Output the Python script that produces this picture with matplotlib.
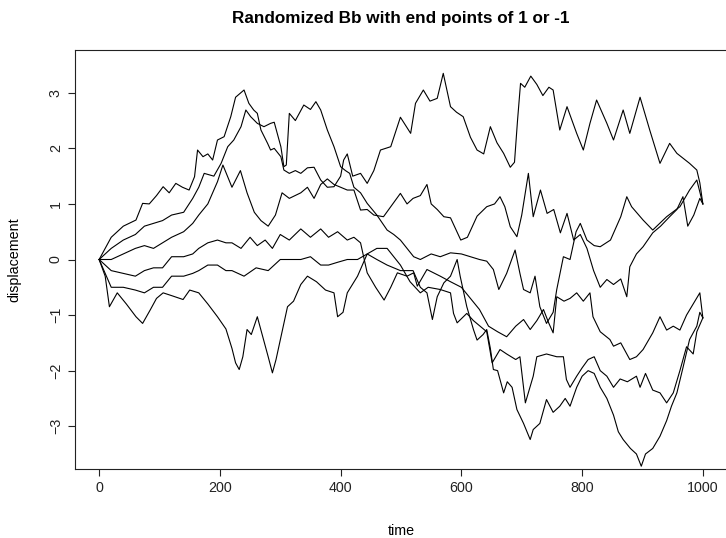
import numpy as np
import matplotlib
matplotlib.use("Agg")
import matplotlib.pyplot as plt

# six bridge paths (time, displacement)
path_a_t = [0, 20, 40, 61, 72, 83, 95, 106, 116, 127, 138, 149, 158, 163, 172, 180, 188, 196, 207, 218,
            226, 240, 248, 256, 262, 268, 279, 284, 290, 301, 306, 315, 325, 334, 345, 356, 367, 378, 389, 400,
            405, 411, 420, 433, 444, 455, 466, 483, 499, 516, 524, 537, 548, 560, 570, 582, 592, 603, 615, 626,
            637, 648, 659, 670, 681, 688, 693, 698, 705, 715, 725, 735, 745, 752, 763, 775, 791, 802, 813, 824,
            841, 852, 868, 879, 896, 912, 929, 945, 957, 978, 990, 995, 1000]
path_a_v = [0, 0.4, 0.6, 0.71, 1.01, 1.0, 1.15, 1.31, 1.2, 1.37, 1.3, 1.25, 1.49, 1.97, 1.85, 1.9, 1.79, 2.15, 2.21, 2.57,
            2.92, 3.05, 2.81, 2.69, 2.63, 2.33, 2.09, 1.97, 2.0, 1.85, 1.61, 1.55, 1.6, 1.55, 1.65, 1.66, 1.43, 1.3, 1.31, 1.5,
            1.79, 1.9, 1.5, 1.55, 1.37, 1.6, 1.97, 2.03, 2.56, 2.27, 2.81, 3.05, 2.85, 2.9, 3.35, 2.75, 2.65, 2.57, 2.2, 1.97,
            1.9, 2.39, 2.1, 1.91, 1.66, 1.75, 2.5, 3.17, 3.1, 3.3, 3.15, 2.95, 3.1, 3.05, 2.33, 2.75, 2.27, 1.97, 2.45, 2.87,
            2.45, 2.15, 2.69, 2.27, 2.92, 2.33, 1.73, 2.09, 1.91, 1.73, 1.61, 1.38, 1.0]

path_b_t = [0, 20, 40, 60, 75, 90, 105, 120, 140, 155, 165, 174, 190, 202, 213, 223, 235, 243, 251, 262,
            273, 284, 290, 301, 306, 310, 315, 325, 339, 350, 359, 367, 378, 389, 400, 408, 415, 422, 433, 444,
            460, 477, 488, 499, 510, 521, 532, 550, 565, 582, 600, 615, 630, 642, 653, 662, 675, 689, 697, 703,
            714, 722, 730, 741, 752, 758, 769, 780, 790, 797, 808, 820, 830, 847, 864, 874, 882, 901, 917, 940,
            962, 978, 990, 1000]
path_b_v = [0, 0.2, 0.35, 0.45, 0.6, 0.65, 0.7, 0.8, 0.85, 1.1, 1.3, 1.55, 1.5, 1.73, 2.03, 2.15, 2.39, 2.69, 2.57, 2.45,
            2.39, 2.45, 2.47, 2.03, 1.67, 1.7, 2.63, 2.5, 2.78, 2.7, 2.84, 2.69, 2.33, 2.03, 1.67, 1.6, 1.55, 1.3, 1.2, 1.01,
            0.8, 0.53, 0.45, 0.35, 0.2, 0.05, 0.0, 0.1, 0.05, 0.12, 0.1, 0.05, 0.0, -0.03, -0.18, -0.54, -0.25, 0.17, -0.25, -0.54,
            -0.6, -0.3, -0.85, -1.15, -0.95, -0.54, 0.05, 0.0, 0.5, 0.65, 0.35, 0.25, 0.23, 0.35, 0.77, 1.13, 0.95, 0.71, 0.53, 0.77,
            0.95, 1.25, 1.43, 1.0]

path_c_t = [0, 20, 40, 60, 75, 90, 105, 120, 140, 155, 165, 180, 196, 205, 220, 234, 245, 257, 268, 280,
            292, 303, 315, 334, 345, 356, 367, 378, 389, 400, 411, 422, 433, 444, 455, 471, 483, 499, 510, 520,
            532, 543, 550, 560, 571, 582, 599, 610, 626, 642, 655, 664, 672, 681, 692, 700, 711, 719, 731, 742,
            753, 764, 775, 786, 797, 808, 819, 830, 841, 852, 864, 874, 879, 890, 901, 917, 930, 945, 957, 967,
            975, 985, 995, 1000]
path_c_v = [0, 0.0, 0.1, 0.2, 0.25, 0.2, 0.3, 0.4, 0.5, 0.65, 0.8, 1.0, 1.4, 1.7, 1.3, 1.6, 1.2, 0.85, 0.7, 0.6,
            0.8, 1.2, 1.1, 1.2, 1.3, 1.1, 1.35, 1.45, 1.35, 1.3, 1.25, 1.25, 0.89, 0.9, 0.8, 0.77, 0.95, 1.19, 1.0, 1.1,
            1.15, 1.35, 1.0, 0.9, 0.77, 0.75, 0.35, 0.4, 0.78, 0.95, 1.0, 1.13, 0.95, 0.59, 0.41, 0.8, 1.55, 0.77, 1.25, 0.83,
            0.9, 0.48, 0.83, 0.35, 0.45, 0.2, -0.2, -0.5, -0.36, -0.45, -0.35, -0.67, -0.13, 0.1, 0.23, 0.48, 0.6, 0.77, 0.9, 1.13,
            0.6, 0.8, 1.1, 1.0]

path_d_t = [0, 20, 40, 60, 75, 90, 105, 120, 140, 155, 165, 180, 196, 210, 220, 235, 250, 262, 275, 287,
            300, 315, 334, 350, 367, 380, 395, 411, 422, 433, 444, 458, 472, 483, 494, 510, 521, 527, 543, 565,
            582, 600, 615, 630, 645, 660, 675, 690, 703, 714, 725, 736, 745, 752, 758, 770, 780, 791, 802, 813,
            818, 830, 846, 852, 864, 879, 890, 901, 917, 929, 940, 951, 962, 973, 984, 995, 1000]
path_d_v = [0, -0.2, -0.25, -0.3, -0.2, -0.15, -0.15, 0.05, 0.05, 0.1, 0.2, 0.3, 0.35, 0.3, 0.3, 0.2, 0.4, 0.25, 0.35, 0.2,
            0.45, 0.35, 0.55, 0.4, 0.55, 0.4, 0.5, 0.35, 0.4, 0.3, -0.24, -0.5, -0.73, -0.5, -0.24, -0.3, -0.24, -0.48, -0.18, -0.3,
            -0.4, -0.5, -0.7, -0.9, -1.2, -1.3, -1.39, -1.2, -1.08, -1.26, -1.1, -0.9, -1.15, -1.32, -0.67, -0.75, -0.7, -0.6, -0.75, -0.6,
            -1.03, -1.3, -1.44, -1.56, -1.5, -1.8, -1.75, -1.62, -1.32, -1.03, -1.27, -1.2, -1.27, -1.0, -0.8, -0.6, -1.05]

path_e_t = [0, 20, 40, 60, 75, 90, 105, 120, 140, 155, 165, 180, 196, 210, 220, 240, 260, 280, 300, 315,
            334, 350, 367, 380, 395, 411, 428, 444, 460, 477, 499, 515, 532, 545, 565, 582, 587, 593, 609, 620,
            631, 642, 651, 664, 675, 690, 697, 706, 719, 725, 741, 758, 769, 774, 780, 791, 800, 810, 820, 830,
            841, 852, 863, 875, 890, 896, 905, 917, 929, 940, 951, 962, 973, 984, 990, 1000]
path_e_v = [0, -0.5, -0.5, -0.55, -0.6, -0.5, -0.5, -0.3, -0.3, -0.25, -0.2, -0.1, -0.1, -0.2, -0.2, -0.3, -0.15, -0.2, 0.0, 0.0,
            0.0, 0.05, -0.1, -0.1, -0.05, 0.0, 0.0, 0.1, 0.2, 0.2, -0.1, -0.4, -0.6, -0.5, -0.54, -0.6, -0.97, -1.14, -0.97, -1.1,
            -1.2, -1.3, -1.86, -1.62, -1.7, -1.8, -1.75, -2.58, -2.1, -1.75, -1.7, -1.75, -1.75, -2.16, -2.3, -2.1, -1.95, -1.8, -1.75, -2.0,
            -2.1, -2.3, -2.15, -2.2, -2.1, -2.3, -2.05, -2.35, -2.4, -2.58, -2.4, -2.0, -1.57, -1.7, -1.3, -1.05]

path_f_t = [0, 10, 17, 30, 45, 61, 72, 85, 95, 106, 120, 139, 150, 165, 180, 196, 210, 220, 226, 232,
            238, 245, 252, 262, 270, 280, 287, 293, 300, 312, 322, 334, 345, 360, 375, 389, 395, 404, 411, 428,
            444, 460, 477, 499, 520, 532, 543, 552, 560, 571, 582, 593, 598, 609, 620, 626, 636, 642, 648, 653,
            660, 670, 676, 684, 692, 703, 714, 719, 730, 741, 752, 763, 772, 780, 791, 800, 810, 820, 830, 841,
            852, 860, 868, 880, 890, 898, 905, 917, 929, 940, 948, 957, 967, 978, 990, 995, 1000]
path_f_v = [0, -0.3, -0.85, -0.6, -0.8, -1.03, -1.15, -0.9, -0.7, -0.6, -0.65, -0.72, -0.55, -0.6, -0.8, -1.03, -1.25, -1.6, -1.86, -1.98,
            -1.75, -1.26, -1.35, -1.03, -1.35, -1.75, -2.04, -1.8, -1.45, -0.85, -0.75, -0.45, -0.3, -0.4, -0.55, -0.6, -1.03, -0.95, -0.6, -0.3,
            0.1, 0.0, -0.1, -0.2, -0.2, -0.5, -0.6, -1.08, -0.67, -0.42, -0.3, 0.0, -0.3, -0.85, -1.26, -1.45, -1.35, -1.26, -1.6, -1.98,
            -2.0, -2.4, -2.2, -2.3, -2.7, -2.95, -3.24, -3.06, -2.95, -2.52, -2.75, -2.64, -2.5, -2.64, -2.3, -2.1, -2.0, -2.05, -2.3, -2.5,
            -2.8, -3.1, -3.24, -3.4, -3.5, -3.72, -3.5, -3.4, -3.18, -2.9, -2.64, -2.4, -1.95, -1.44, -1.2, -0.95, -1.05]

paths = [(path_a_t, path_a_v), (path_b_t, path_b_v), (path_c_t, path_c_v),
         (path_d_t, path_d_v), (path_e_t, path_e_v), (path_f_t, path_f_v)]

x_ticks = [0, 200, 400, 600, 800, 1000]
y_ticks = [-3, -2, -1, 0, 1, 2, 3]

plt.rcParams['font.family'] = ['Liberation Sans', 'DejaVu Sans']

W, H = 726, 538
fig = plt.figure(figsize=(W / 100, H / 100), dpi=100)
ax = fig.add_axes([75 / W, (H - 469) / H, 652 / W, 419 / H])

for t, v in paths:
    ax.plot(np.array(t), np.array(v), color="black", lw=0.8)

ax.set_xlim(-40, 1040)
ax.set_ylim(-3.77, 3.77)
ax.set_xticks(x_ticks)
ax.set_yticks(y_ticks)
ax.tick_params(direction="out", length=5.2, width=0.8, labelsize=10.3, pad=3.5, colors="#222222")
for lbl in ax.get_yticklabels():
    lbl.set_rotation(90)
    lbl.set_va("center")
for sp in ax.spines.values():
    sp.set_linewidth(0.8)
    sp.set_color("#222222")

fig.text(401 / W, 1 - 18 / H, "Randomized Bb with end points of 1 or -1",
         ha="center", va="center", fontsize=12.3, fontweight="bold")
fig.text(401 / W, 1 - 531 / H, "time", ha="center", va="center", fontsize=10.3)
fig.text(14 / W, 1 - 260 / H, "displacement", ha="center", va="center",
         rotation=90, fontsize=10.3)

fig.savefig("out.png", dpi=100)
